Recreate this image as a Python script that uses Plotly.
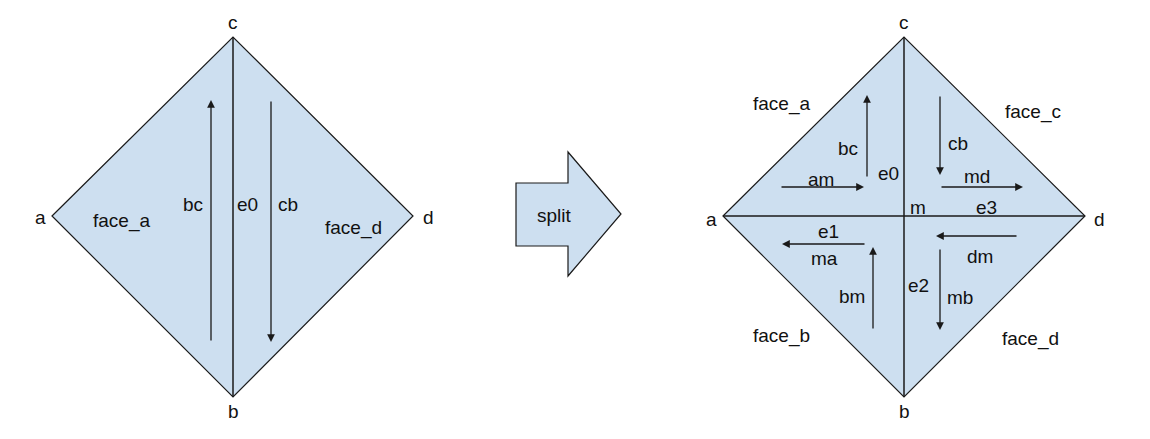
import plotly.graph_objects as go

W, H = 1150, 439
OFF = 8  # page body margin
FILL = "#cddff0"
LINE = "#1a1a1a"

# diamonds: (a, c, d, b)
left_diamond = [(52, 216), (233, 37), (413, 216), (233, 397)]
right_diamond = [(723, 216), (904, 37), (1085, 216), (904, 397)]
split_arrow = [(516, 183), (568, 183), (568, 152), (621, 214), (568, 276), (568, 246), (516, 246)]

inner_lines = [((233, 37), (233, 397)), ((904, 37), (904, 397)), ((723, 216), (1085, 216))]

# arrows: (x_start, y_start, x_end, y_end)
arrows = [
    (211, 342, 211, 100), (271, 100, 271, 342),
    (867, 178, 867, 95), (940, 95, 940, 175),
    (780, 187, 864, 187), (940, 187, 1023, 187),
    (866, 244, 782, 244), (1018, 236, 936, 236),
    (873, 330, 873, 247), (940, 248, 940, 330),
]

labels = ["a", "c", "d", "b", "face_a", "bc", "e0", "cb", "face_d", "split",
          "a", "c", "d", "b", "face_a", "face_c", "face_b", "face_d",
          "bc", "e0", "cb", "am", "md", "m", "e3", "e1", "ma", "dm", "bm", "e2", "mb"]
label_x = [40, 233, 428, 233, 121, 193, 247, 288, 353, 554,
           711, 904, 1099, 904, 781, 1033, 781, 1030,
           848, 888, 958, 821, 977, 918, 986, 828, 824, 980, 852, 918, 960]
label_y = [217, 22, 217, 411, 221, 204, 204, 204, 228, 215,
           219, 22, 219, 411, 104, 112, 336, 339,
           148, 173, 143, 179, 176, 207, 207, 231, 258, 256, 296, 285, 297]


def path(pts):
    return "M " + " L ".join(f"{x},{y}" for x, y in pts) + " Z"


fig = go.Figure()
fig.add_trace(go.Scatter(x=[OFF, W], y=[OFF, H], mode="markers", marker=dict(opacity=0), hoverinfo="skip"))

shapes = []
for poly in (left_diamond, right_diamond, split_arrow):
    shapes.append(dict(type="path", path=path(poly), xref="x", yref="y",
                       fillcolor=FILL, line=dict(color=LINE, width=1.2), layer="below"))
for (x0, y0), (x1, y1) in inner_lines:
    shapes.append(dict(type="line", x0=x0, y0=y0, x1=x1, y1=y1, xref="x", yref="y",
                       line=dict(color=LINE, width=1.5)))

annotations = []
for x0, y0, x1, y1 in arrows:
    annotations.append(dict(x=x1, y=y1, ax=x0, ay=y0, xref="x", yref="y", axref="x", ayref="y",
                            text="", showarrow=True, arrowhead=2, arrowsize=1.2,
                            arrowwidth=1.3, arrowcolor=LINE))
for t, x, y in zip(labels, label_x, label_y):
    annotations.append(dict(x=x, y=y, xref="x", yref="y", text=t, showarrow=False,
                            font=dict(family="Liberation Sans, Arial", size=19, color="#111")))

fig.update_layout(
    width=W, height=H, margin=dict(l=0, r=0, t=0, b=0),
    paper_bgcolor="white", plot_bgcolor="white", showlegend=False,
    xaxis=dict(range=[OFF, W + OFF], visible=False, fixedrange=True),
    yaxis=dict(range=[H + OFF, OFF], visible=False, fixedrange=True),
    shapes=shapes, annotations=annotations,
)
fig.write_html("out.html")
